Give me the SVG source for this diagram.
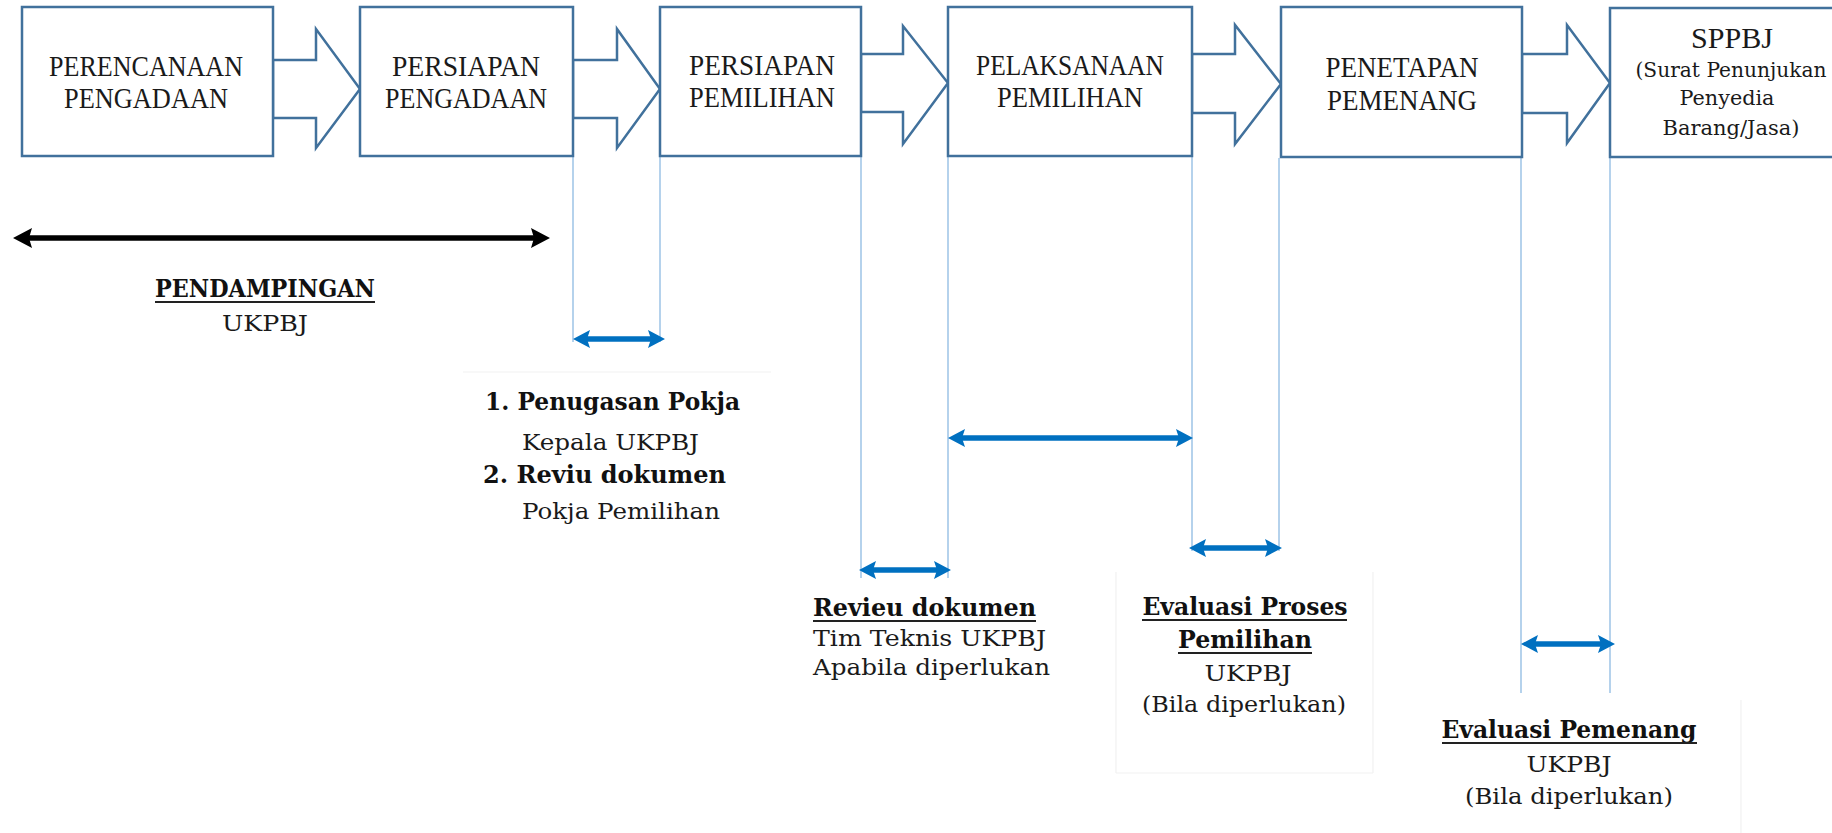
<svg xmlns="http://www.w3.org/2000/svg" width="1832" height="833" viewBox="0 0 1832 833">
<defs>
<style>
.box{fill:#fff;stroke:#41719C;stroke-width:2.5}
.blk{fill:#fff;stroke:#41719C;stroke-width:2.5;stroke-linejoin:miter}
.lbl{font-family:"Liberation Serif","Times New Roman",serif;font-size:30px;fill:#1a1a1a;text-anchor:middle}
.sub{font-family:"DejaVu Serif","Liberation Serif",serif;font-size:21px;fill:#1a1a1a;text-anchor:middle}
.reg{font-family:"DejaVu Serif","Liberation Serif",serif;font-size:23px;fill:#1a1a1a}
.bold{font-family:"DejaVu Serif","Liberation Serif",serif;font-size:24px;font-weight:bold;fill:#111}
.mid{text-anchor:middle}
.ul{stroke:#222;stroke-width:2}
.guide{stroke:#9DC3E6;stroke-width:1.5}
.faint{stroke:#f1f1f1;stroke-width:1.2;fill:none}
.bar{stroke:#0070C0;stroke-width:5.5}
.barb{stroke:#000;stroke-width:5.5}
</style>
<marker id="hb" markerUnits="userSpaceOnUse" markerWidth="18" markerHeight="20" refX="6" refY="10" orient="auto-start-reverse" viewBox="0 0 18 20">
<path d="M0,1 L17,10 L0,19 L3,10 z" fill="#0070C0"/>
</marker>
<marker id="hk" markerUnits="userSpaceOnUse" markerWidth="20" markerHeight="22" refX="7" refY="11" orient="auto-start-reverse" viewBox="0 0 20 22">
<path d="M0,1 L19,11 L0,21 L3,11 z" fill="#000"/>
</marker>
</defs>
<rect x="0" y="0" width="1832" height="833" fill="#fff"/>

<g id="faint-borders">
<line class="faint" x1="463" y1="372" x2="771" y2="372"/>
<line class="faint" x1="1116" y1="572" x2="1116" y2="773"/>
<line class="faint" x1="1373" y1="572" x2="1373" y2="773"/>
<line class="faint" x1="1116" y1="773" x2="1373" y2="773"/>
<line class="faint" x1="1741" y1="700" x2="1741" y2="833"/>
</g>

<g id="connectors">
<polygon class="blk" points="273,60 316,60 316,29 360,89 316,148 316,118 273,118"/>
<polygon class="blk" points="573,60 617,60 617,29 660,89 617,148 617,118 573,118"/>
<polygon class="blk" points="861,54 903,54 903,26 948,83 903,144 903,112 861,112"/>
<polygon class="blk" points="1192,54 1235,54 1235,25 1281,84 1235,144 1235,113 1192,113"/>
<polygon class="blk" points="1522,54 1567,54 1567,25 1610,83 1567,143 1567,113 1522,113"/>

<line class="guide" x1="573" y1="157" x2="573" y2="342"/>
<line class="guide" x1="660" y1="157" x2="660" y2="342"/>
<line class="guide" x1="861" y1="157" x2="861" y2="578"/>
<line class="guide" x1="948" y1="157" x2="948" y2="578"/>
<line class="guide" x1="1192" y1="157" x2="1192" y2="551"/>
<line class="guide" x1="1279" y1="158" x2="1279" y2="551"/>
<line class="guide" x1="1521" y1="158" x2="1521" y2="693"/>
<line class="guide" x1="1610" y1="158" x2="1610" y2="693"/>

<line class="barb" x1="25" y1="238" x2="538" y2="238" marker-start="url(#hk)" marker-end="url(#hk)"/>
<line class="bar" x1="584" y1="339" x2="654" y2="339" marker-start="url(#hb)" marker-end="url(#hb)"/>
<line class="bar" x1="870" y1="570" x2="940" y2="570" marker-start="url(#hb)" marker-end="url(#hb)"/>
<line class="bar" x1="959" y1="438" x2="1182" y2="438" marker-start="url(#hb)" marker-end="url(#hb)"/>
<line class="bar" x1="1200" y1="548" x2="1271" y2="548" marker-start="url(#hb)" marker-end="url(#hb)"/>
<line class="bar" x1="1532" y1="644" x2="1604" y2="644" marker-start="url(#hb)" marker-end="url(#hb)"/>
</g>

<g id="node-perencanaan">
<rect class="box" x="22" y="7" width="251" height="149"/>
<text class="lbl" x="146" y="76" textLength="194" lengthAdjust="spacingAndGlyphs">PERENCANAAN</text>
<text class="lbl" x="146" y="108" textLength="164" lengthAdjust="spacingAndGlyphs">PENGADAAN</text>
</g>
<g id="node-persiapan-pengadaan">
<rect class="box" x="360" y="7" width="213" height="149"/>
<text class="lbl" x="466" y="76" textLength="148" lengthAdjust="spacingAndGlyphs">PERSIAPAN</text>
<text class="lbl" x="466" y="108" textLength="162" lengthAdjust="spacingAndGlyphs">PENGADAAN</text>
</g>
<g id="node-persiapan-pemilihan">
<rect class="box" x="660" y="7" width="201" height="149"/>
<text class="lbl" x="762" y="75" textLength="146" lengthAdjust="spacingAndGlyphs">PERSIAPAN</text>
<text class="lbl" x="762" y="107" textLength="146" lengthAdjust="spacingAndGlyphs">PEMILIHAN</text>
</g>
<g id="node-pelaksanaan">
<rect class="box" x="948" y="7" width="244" height="149"/>
<text class="lbl" x="1070" y="75" textLength="188" lengthAdjust="spacingAndGlyphs">PELAKSANAAN</text>
<text class="lbl" x="1070" y="107" textLength="146" lengthAdjust="spacingAndGlyphs">PEMILIHAN</text>
</g>
<g id="node-penetapan">
<rect class="box" x="1281" y="7" width="241" height="150"/>
<text class="lbl" x="1402" y="77" textLength="153" lengthAdjust="spacingAndGlyphs">PENETAPAN</text>
<text class="lbl" x="1402" y="110" textLength="150" lengthAdjust="spacingAndGlyphs">PEMENANG</text>
</g>
<g id="node-sppbj">
<rect class="box" x="1610" y="8" width="240" height="149"/>
<text class="lbl" x="1732" y="48" font-size="28" textLength="82" lengthAdjust="spacingAndGlyphs">SPPBJ</text>
<text class="sub" x="1731" y="77" textLength="191" lengthAdjust="spacingAndGlyphs">(Surat Penunjukan</text>
<text class="sub" x="1727" y="105" textLength="95" lengthAdjust="spacingAndGlyphs">Penyedia</text>
<text class="sub" x="1731" y="135" textLength="137" lengthAdjust="spacingAndGlyphs">Barang/Jasa)</text>
</g>

<g id="label-pendampingan">
<text class="bold mid" x="265" y="297" textLength="220" lengthAdjust="spacingAndGlyphs">PENDAMPINGAN</text>
<line class="ul" x1="155" y1="302" x2="375" y2="302"/>
<text class="reg mid" x="265" y="331" textLength="86" lengthAdjust="spacingAndGlyphs">UKPBJ</text>
</g>

<g id="label-penugasan">
<text class="bold" x="485" y="410" textLength="255" lengthAdjust="spacingAndGlyphs">1. Penugasan Pokja</text>
<text class="reg" x="522" y="450" textLength="177" lengthAdjust="spacingAndGlyphs">Kepala UKPBJ</text>
<text class="bold" x="483" y="483" textLength="243" lengthAdjust="spacingAndGlyphs">2. Reviu dokumen</text>
<text class="reg" x="522" y="519" textLength="198" lengthAdjust="spacingAndGlyphs">Pokja Pemilihan</text>
</g>

<g id="label-revieu">
<text class="bold" x="813" y="616" textLength="223" lengthAdjust="spacingAndGlyphs">Revieu dokumen</text>
<line class="ul" x1="813" y1="621" x2="1036" y2="621"/>
<text class="reg" x="813" y="646" textLength="233" lengthAdjust="spacingAndGlyphs">Tim Teknis UKPBJ</text>
<text class="reg" x="813" y="675" textLength="237" lengthAdjust="spacingAndGlyphs">Apabila diperlukan</text>
</g>

<g id="label-evaluasi-proses">
<text class="bold mid" x="1245" y="615" textLength="205" lengthAdjust="spacingAndGlyphs">Evaluasi Proses</text>
<line class="ul" x1="1142" y1="620" x2="1347" y2="620"/>
<text class="bold mid" x="1245" y="648" textLength="134" lengthAdjust="spacingAndGlyphs">Pemilihan</text>
<line class="ul" x1="1178" y1="653" x2="1312" y2="653"/>
<text class="reg mid" x="1248" y="681" textLength="87" lengthAdjust="spacingAndGlyphs">UKPBJ</text>
<text class="reg mid" x="1244" y="712" textLength="204" lengthAdjust="spacingAndGlyphs">(Bila diperlukan)</text>
</g>

<g id="label-evaluasi-pemenang">
<text class="bold mid" x="1569" y="738" textLength="255" lengthAdjust="spacingAndGlyphs">Evaluasi Pemenang</text>
<line class="ul" x1="1442" y1="743" x2="1697" y2="743"/>
<text class="reg mid" x="1569" y="772" textLength="85" lengthAdjust="spacingAndGlyphs">UKPBJ</text>
<text class="reg mid" x="1569" y="804" textLength="208" lengthAdjust="spacingAndGlyphs">(Bila diperlukan)</text>
</g>
</svg>
